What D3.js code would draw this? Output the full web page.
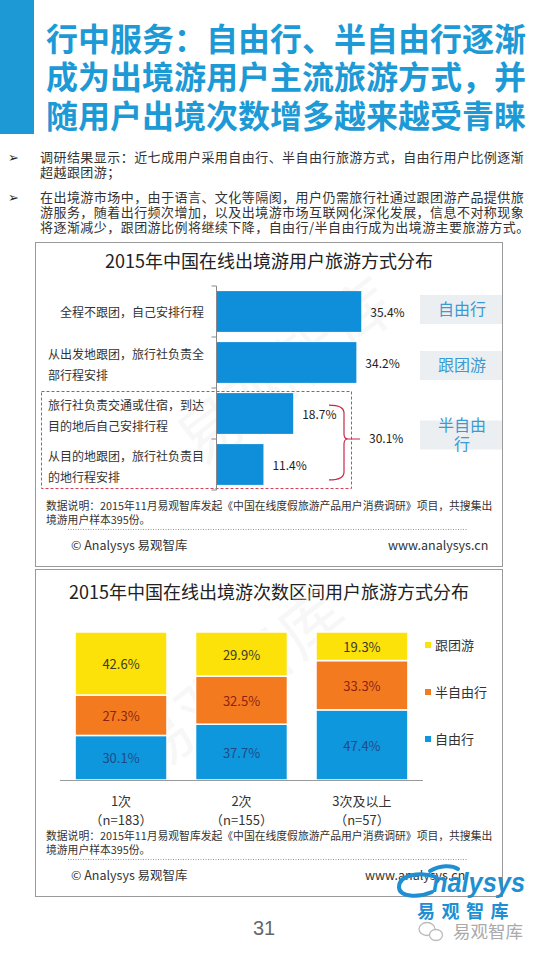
<!DOCTYPE html>
<html>
<head>
<meta charset="utf-8">
<script src="https://cdn.jsdelivr.net/npm/d3@7"></script>
<style>
  html, body { margin: 0; padding: 0; background: #fff; }
  svg { display: block; font-family: "Noto Sans CJK SC", "Noto Sans", sans-serif; }
</style>
</head>
<body>
<div id="viewportContainer"></div>
<script>
/* --- データ --- */
const headLines = ["行中服务：自由行、半自由行逐渐", "成为出境游用户主流旅游方式，并", "随用户出境次数增多越来越受青睐"];
const bulletLines = [
  ["调研结果显示：近七成用户采用自由行、半自由行旅游方式，自由行用户比例逐渐", "超越跟团游；"],
  ["在出境游市场中，由于语言、文化等隔阂，用户仍需旅行社通过跟团游产品提供旅", "游服务，随着出行频次增加，以及出境游市场互联网化深化发展，信息不对称现象", "将逐渐减少，跟团游比例将继续下降，自由行/半自由行成为出境游主要旅游方式。"]
];

// 図1：旅游方式分布
const modeTitle = "2015年中国在线出境游用户旅游方式分布";
const modeCats = [
  ["全程不跟团，自己安排行程"],
  ["从出发地跟团，旅行社负责全", "部行程安排"],
  ["旅行社负责交通或住宿，到达", "目的地后自己安排行程"],
  ["从目的地跟团，旅行社负责目", "的地行程安排"]
];
const modeValues = [35.4, 34.2, 18.7, 11.4];
const modeTags = ["自由行", "跟团游", "半自由行"];
const semiTotal = 30.1;

// 図2：出境次数区间
const freqTitle = "2015年中国在线出境游次数区间用户旅游方式分布";
const freqCats = ["1次", "2次", "3次及以上"];
const freqN = ["（n=183）", "（n=155）", "（n=57）"];
const seriesKeys = ["自由行", "半自由行", "跟团游"];
const freeVals = [30.1, 37.7, 47.4];
const semiVals = [27.3, 32.5, 33.3];
const groupVals = [42.6, 29.9, 19.3];

const noteLines = ["数据说明：2015年11月易观智库发起《中国在线度假旅游产品用户消费调研》项目，共搜集出", "境游用户样本395份。"];

/* --- 色 --- */
const blue = "#1d9ad6";
const barBlue = "#0f8fd9";
const colorScale = d3.scaleOrdinal().domain(seriesKeys).range(["#0f97dd", "#f47a20", "#fde20a"]);
const labelColor = d3.scaleOrdinal().domain(seriesKeys).range(["#1e4b86", "#8a2412", "#3a3a2a"]);

const W = 540, H = 960;
const svg = d3.select("#viewportContainer").append("svg")
  .attr("width", W).attr("height", H).attr("viewBox", `0 0 ${W} ${H}`);

// 文字の中心 y からベースラインへ
const base = (cy, fs) => cy + fs * 0.36;

/* --- ヘッダー --- */
svg.append("rect").attr("x", 0).attr("y", 0).attr("width", 34).attr("height", 134).attr("fill", blue);
svg.append("g").selectAll("text").data(headLines).join("text")
  .attr("x", 46).attr("y", (d, i) => base(39 + i * 38.5, 32))
  .attr("font-size", 32).attr("font-weight", 700).attr("fill", blue)
  .text(d => d);

const bulletTop = [157, 197];
bulletLines.forEach((lines, bi) => {
  svg.append("text").attr("x", 8).attr("y", base(bulletTop[bi], 13))
    .attr("font-family", "DejaVu Sans, sans-serif")
    .attr("font-size", 13).attr("fill", "#222").text("➢");
  svg.append("g").selectAll("text").data(lines).join("text")
    .attr("x", 40).attr("y", (d, i) => base(bulletTop[bi] + i * 15, 13))
    .attr("font-size", 13).attr("letter-spacing", 0.45).attr("fill", "#333")
    .text(d => d);
});

/* --- 共通：枠・注記・フッター --- */
function drawFrame(top, bottom, title, titleY, noteY, wwwX) {
  svg.append("rect").attr("x", 35.5).attr("y", top + 0.5)
    .attr("width", 467).attr("height", bottom - top)
    .attr("fill", "none").attr("stroke", "#9a9a9a").attr("stroke-width", 1);
  svg.append("text").attr("x", 269).attr("y", base(titleY, 18))
    .attr("text-anchor", "middle").attr("font-size", 18).attr("fill", "#222").text(title);
  svg.append("g").selectAll("text").data(noteLines).join("text")
    .attr("x", 46).attr("y", (d, i) => base(noteY + i * 14, 10.8))
    .attr("font-size", 10.8).attr("fill", "#333").text(d => d);
  svg.append("line").attr("x1", 68).attr("x2", 468)
    .attr("y1", noteY + 23.5).attr("y2", noteY + 23.5)
    .attr("stroke", "#999").attr("stroke-dasharray", "1,1.5");
  svg.append("text").attr("x", 71).attr("y", base(noteY + 39, 12.5))
    .attr("font-size", 12.5).attr("fill", "#333").text("© Analysys 易观智库");
  svg.append("text").attr("x", wwwX).attr("y", base(noteY + 39, 12.5))
    .attr("font-size", 12.5).attr("fill", "#333").text("www.analysys.cn");
}

function watermark(x, y) {
  svg.append("text").attr("transform", `translate(${x},${y}) rotate(-38)`)
    .attr("text-anchor", "middle").attr("font-size", 64).attr("fill", "#e6e6e6")
    .attr("opacity", 0.3).text("易观智库");
}

/* --- 図1 --- */
drawFrame(242, 566, modeTitle, 262, 506, 388);
watermark(300, 390);

const yScale1 = d3.scaleBand().domain(d3.range(modeCats.length))
  .range([286, 490]).paddingInner(0.2).paddingOuter(0.1);
const xScale1 = d3.scaleLinear().domain([0, 40]).range([217, 380]);

// 半自由行の点線枠
svg.append("rect").attr("x", 41.5).attr("y", 391.5).attr("width", 310).attr("height", 97)
  .attr("fill", "none").attr("stroke", "#d2465c").attr("stroke-width", 1).attr("stroke-dasharray", "3,2");

const yAxis1 = d3.axisLeft(yScale1).tickSize(0).tickFormat("");
const axisG = svg.append("g").attr("transform", "translate(216.5,0)").call(yAxis1);
axisG.select(".domain").attr("stroke", "#888").attr("d", "M0,286V490");
const step = yScale1.step();
axisG.selectAll(".bound").data(d3.range(modeCats.length + 1)).join("line")
  .attr("class", "bound").attr("x1", -5).attr("x2", 0)
  .attr("y1", i => yScale1(0) - yScale1.paddingInner() * step / 2 + i * step)
  .attr("y2", i => yScale1(0) - yScale1.paddingInner() * step / 2 + i * step)
  .attr("stroke", "#888");

svg.append("g").selectAll("rect").data(modeValues).join("rect")
  .attr("x", xScale1(0)).attr("y", (d, i) => yScale1(i))
  .attr("width", d => xScale1(d) - xScale1(0)).attr("height", yScale1.bandwidth())
  .attr("fill", barBlue);

svg.append("g").selectAll("text").data(modeValues).join("text")
  .attr("x", d => xScale1(d) + 9)
  .attr("y", (d, i) => base(yScale1(i) + yScale1.bandwidth() / 2 + 1, 12))
  .attr("font-size", 12).attr("fill", "#222")
  .text(d => d.toFixed(1) + "%");

// カテゴリラベル（折り返し）
modeCats.forEach((lines, i) => {
  const cy = yScale1(i) + yScale1.bandwidth() / 2 + 1 + (lines.length > 1 ? 1.5 : 0);
  const g = svg.append("g");
  const first = g.append("text").attr("x", 204).attr("text-anchor", "end")
    .attr("y", base(cy - (lines.length - 1) * 10.75, 12))
    .attr("font-size", 12).attr("fill", "#333").text(lines[0]);
  const startX = 204 - first.node().getComputedTextLength();
  lines.slice(1).forEach((t, j) => {
    g.append("text").attr("x", startX).attr("y", base(cy - (lines.length - 1) * 10.75 + (j + 1) * 21.5, 12))
      .attr("font-size", 12).attr("fill", "#333").text(t);
  });
});

// 中括弧
const bTop = yScale1(2) + 12, bBot = yScale1(3) + yScale1.bandwidth() - 5;
const bMid = (yScale1(2) + yScale1(3) + yScale1.bandwidth()) / 2;
const bx = 344;
svg.append("path")
  .attr("d", `M${bx - 15},${bTop} Q${bx},${bTop} ${bx},${bTop + 8} L${bx},${bMid - 5} Q${bx},${bMid} ${bx + 4},${bMid}`
    + ` Q${bx},${bMid} ${bx},${bMid + 5} L${bx},${bBot - 8} Q${bx},${bBot} ${bx - 15},${bBot}`
    + ` M${bx + 4},${bMid} L${bx + 16},${bMid}`)
  .attr("fill", "none").attr("stroke", "#c6284a").attr("stroke-width", 1.2);
svg.append("text").attr("x", 369).attr("y", base(bMid, 12))
  .attr("font-size", 12).attr("fill", "#222").text(semiTotal.toFixed(1) + "%");

// 右側のタグ
const tagCenters = [yScale1(0) + yScale1.bandwidth() / 2 - 2, yScale1(1) + yScale1.bandwidth() / 2 + 3, bMid - 4];
modeTags.forEach((t, i) => {
  svg.append("rect").attr("x", 420).attr("y", tagCenters[i] - 14.5).attr("width", 82).attr("height", 29)
    .attr("fill", "#eceff1");
  const lines = t.length > 3 ? [t.slice(0, 3), t.slice(3)] : [t];
  svg.append("g").selectAll("text").data(lines).join("text")
    .attr("x", 462).attr("text-anchor", "middle")
    .attr("y", (d, j) => base(tagCenters[i] - (lines.length - 1) * 9.5 + j * 19, 16))
    .attr("font-size", 16).attr("fill", "#3a9ad2").text(d => d);
});

/* --- 図2 --- */
drawFrame(569, 896, freqTitle, 593, 836, 365);
watermark(250, 700);

const rows = freqCats.map((c, i) => ({cat: c, "自由行": freeVals[i], "半自由行": semiVals[i], "跟团游": groupVals[i]}));
const stacked = d3.stack().keys(seriesKeys)(rows);

const xScale2 = d3.scaleBand().domain(freqCats).range([60, 423]).paddingInner(0.237).paddingOuter(0.125);
const yScale2 = d3.scaleLinear().domain([0, 100]).range([780, 632]);

const layer = svg.append("g").selectAll("g").data(stacked).join("g")
  .attr("fill", d => colorScale(d.key));
layer.selectAll("rect").data(d => d).join("rect")
  .attr("x", d => xScale2(d.data.cat)).attr("width", xScale2.bandwidth())
  .attr("y", d => yScale2(Math.min(d[1], 100)))
  .attr("height", d => yScale2(d[0]) - yScale2(Math.min(d[1], 100)))
  .attr("stroke", "#fff").attr("stroke-width", 1.5);

svg.append("g").selectAll("g").data(stacked).join("g")
  .attr("fill", d => labelColor(d.key))
  .selectAll("text").data(d => d).join("text")
  .attr("x", d => xScale2(d.data.cat) + xScale2.bandwidth() / 2)
  .attr("y", d => base((yScale2(d[0]) + yScale2(Math.min(d[1], 100))) / 2 + 1, 13))
  .attr("text-anchor", "middle").attr("font-size", 13)
  .text(d => (d[1] - d[0]).toFixed(1) + "%");

const xAxis2 = d3.axisBottom(xScale2).tickSize(0).tickFormat("");
const ax2 = svg.append("g").attr("transform", "translate(0,780.5)").call(xAxis2);
ax2.select(".domain").attr("stroke", "#9a9a9a").attr("d", "M60,0H423");

svg.append("g").selectAll("text").data(freqCats).join("text")
  .attr("x", d => xScale2(d) + xScale2.bandwidth() / 2).attr("y", base(801, 13))
  .attr("text-anchor", "middle").attr("font-size", 13).attr("fill", "#333").text(d => d);
svg.append("g").selectAll("text").data(freqN).join("text")
  .attr("x", (d, i) => xScale2(freqCats[i]) + xScale2.bandwidth() / 2).attr("y", base(820, 13))
  .attr("text-anchor", "middle").attr("font-size", 13).attr("fill", "#333").text(d => d);

// 凡例
const legendKeys = seriesKeys.slice().reverse();
const legendY = [645, 692, 739];
const legend = svg.append("g").selectAll("g").data(legendKeys).join("g")
  .attr("transform", (d, i) => `translate(425,${legendY[i]})`);
legend.append("rect").attr("x", 0).attr("y", -3).attr("width", 6).attr("height", 6).attr("fill", d => colorScale(d));
legend.append("text").attr("x", 10).attr("y", base(0, 13)).attr("font-size", 13).attr("fill", "#333").text(d => d);

/* --- ロゴ・ページ番号 --- */
const logo = svg.append("g");
logo.append("path")
  .attr("d", "M436,877 C420,871 399,875 399,887 C399,897 418,898 432,892 M430,871 C440,865 452,865 458,869")
  .attr("fill", "none").attr("stroke", "#1e8fd2").attr("stroke-width", 4).attr("stroke-linecap", "round");
logo.append("text").attr("x", 432).attr("y", 892)
  .attr("font-family", "Liberation Sans, Arial, sans-serif").attr("font-style", "italic").attr("font-weight", 700)
  .attr("font-size", 27).attr("textLength", 93).attr("lengthAdjust", "spacingAndGlyphs")
  .attr("fill", "#1e8fd2").text("nalysys");
logo.append("text").attr("x", 417).attr("y", base(912, 18))
  .attr("font-size", 18).attr("font-weight", 700).attr("fill", "#1e8fd2").attr("letter-spacing", 6.5)
  .text("易观智库");

svg.append("text").attr("x", 264).attr("y", base(928, 20))
  .attr("text-anchor", "middle").attr("font-size", 20).attr("fill", "#666")
  .attr("font-family", "Liberation Sans, Arial, sans-serif").text("31");

// WeChat アイコン
const wx = svg.append("g").attr("fill", "none").attr("stroke", "#bbb").attr("stroke-width", 1.3);
wx.append("ellipse").attr("cx", 427).attr("cy", 929).attr("rx", 8).attr("ry", 6.5);
wx.append("ellipse").attr("cx", 436).attr("cy", 935).attr("rx", 6.5).attr("ry", 5.5).attr("fill", "#fff");
svg.append("text").attr("x", 453).attr("y", base(932, 17.5))
  .attr("font-size", 17.5).attr("fill", "#aaa").text("易观智库");
</script>
</body>
</html>
